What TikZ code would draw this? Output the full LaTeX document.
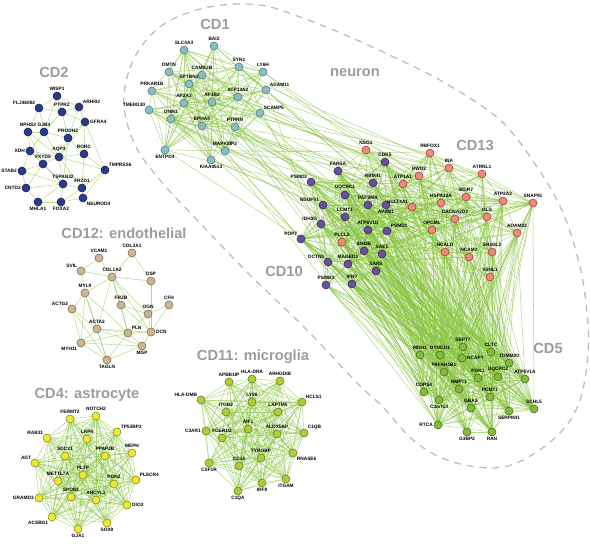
\documentclass[tikz,border=0pt]{standalone}
\usepackage{fontspec}
\setmainfont{Liberation Sans}
\usetikzlibrary{backgrounds}
\definecolor{CDone}{HTML}{8DBCC0}
\definecolor{CDoneLine}{HTML}{4E7C80}
\definecolor{CDtwo}{HTML}{2A3A8C}
\definecolor{CDtwoLine}{HTML}{1A2350}
\definecolor{CDtwelve}{HTML}{CDB590}
\definecolor{CDtwelveLine}{HTML}{7D6A50}
\definecolor{CDfour}{HTML}{EDE835}
\definecolor{CDfourLine}{HTML}{8C8A1A}
\definecolor{CDeleven}{HTML}{B0CC3A}
\definecolor{CDelevenLine}{HTML}{60801C}
\definecolor{CDten}{HTML}{6B4F9A}
\definecolor{CDtenLine}{HTML}{3A2A5E}
\definecolor{CDthirteen}{HTML}{EC8A78}
\definecolor{CDthirteenLine}{HTML}{9A4434}
\definecolor{CDfive}{HTML}{86BA3A}
\definecolor{CDfiveLine}{HTML}{43701A}
\definecolor{LinkGreen}{HTML}{84C23A}
\definecolor{TitleGray}{HTML}{9C9C9C}
\definecolor{OutlineGray}{HTML}{BDBDBD}
\tikzset{
 gene/.style={circle, inner sep=0pt, minimum size=2.4mm, line width=0.5pt},
 cdone/.style={gene, draw=CDoneLine, fill=CDone},
 cdtwo/.style={gene, draw=CDtwoLine, fill=CDtwo},
 cdtwelve/.style={gene, draw=CDtwelveLine, fill=CDtwelve},
 cdfour/.style={gene, draw=CDfourLine, fill=CDfour},
 cdeleven/.style={gene, draw=CDelevenLine, fill=CDeleven},
 cdten/.style={gene, draw=CDtenLine, fill=CDten},
 cdthirteen/.style={gene, draw=CDthirteenLine, fill=CDthirteen},
 cdfive/.style={gene, draw=CDfiveLine, fill=CDfive},
 every label/.style={font=\fontsize{4.1}{4.5}\selectfont\bfseries, inner sep=0.3pt, text=black},
 label distance=0.1mm,
 title/.style={font=\fontsize{12.5}{14}\selectfont\bfseries, text=TitleGray},
 netlink/.style={draw=LinkGreen, line width=0.45pt, opacity=0.6},
 outline/.style={draw=OutlineGray, line width=1.1pt, dash pattern=on 6pt off 5pt}
}
% random links inside one list / between two lists
\newcommand\linkwithin[2]{%
 \foreach \a [count=\i] in #1 {
  \foreach \b [count=\j] in #1 {
   \ifnum\j>\i
    \pgfmathtruncatemacro\keep{rnd<#2}
    \ifnum\keep=1 \draw[netlink] (\a) -- (\b);\fi
   \fi}}}
\newcommand\linkacross[3]{%
 \foreach \a in #1 {
  \foreach \b in #2 {
   \pgfmathtruncatemacro\keep{rnd<#3}
   \ifnum\keep=1 \draw[netlink] (\a) -- (\b);\fi}}}

\begin{document}
\begin{tikzpicture}[x=0.3mm, y=-0.3mm]
\useasboundingbox (0,0) rectangle (590,548);
\pgfmathsetseed{7}

% CD1
\foreach \nm/\x/\y/\lp/\txt in {bai2/214/46/above/BAI2, slc4a3/184/50/above/SLC4A3,
  syn1/239/67/above/SYN1, ly6h/263/72/above/LY6H, dmtn/169/72/above/DMTN,
  camk2b/202/75/above/CAMK2B, sptbn2/189/84/above/SPTBN2, prkar1b/152/91/above/PRKAR1B,
  adam11/266/90/above right/ADAM11, ap2a2/184/103/above/AP2A2, ap3b2/212/102/above/AP3B2,
  atp13a2/238/97/above/ATP13A2, tmem130/149/110/above left/TMEM130,
  scamp5/260/113/above right/SCAMP5, dnm1/171/119/above/DNM1, epha4/202/126/above/EPHA4,
  ptprn/235/127/above/PTPRN, entpd4/165/150/below/ENTPD4, mapk8ip2/225/151/above/MAPK8IP2,
  kiaa0513/211/160/below/KIAA0513}
  \node[cdone, label=\lp:\txt] (\nm) at (\x,\y) {};

% CD2
\foreach \nm/\x/\y/\lp/\txt in {wisp1/57/96/above/WISP1, flj46082/39/108/above left/FLJ46082,
  ptprz/62/112/above/PTPRZ, arhi02/79/107/above right/ARHI02, gfra4/85/122/right/GFRA4,
  nphs2/28/132/above/NPHS2, gjb4/44/132/above/GJB4, prodh2/68/138/above/PRODH2,
  xdh/30/151/left/XDH, aqp3/59/157/above/AQP3, fxyd5/43/164/above/FXYD5,
  rorc/84/154/above/RORC, tmprss6/105/170/above right/TMPRSS6, stab2/22/171/left/STAB2,
  tspan32/63/184/above/TSPAN32, frzd1/82/188/above/FRZD1, cntd2/26/188/left/CNTD2,
  neurod4/83/198/below right/NEUROD4, mhla1/38/202/below/MHLA1, foxa2/61/202/below/FOXA2}
  \node[cdtwo, label=\lp:\txt] (\nm) at (\x,\y) {};

% CD12
\foreach \nm/\x/\y/\lp/\txt in {col3a1/132/253/above/COL3A1, vcam1/99/258/above/VCAM1,
  svil/81/271/above left/SVIL, col1a2/112/277/above/COL1A2, dsp/151/281/above/DSP,
  myl9/85/293/above/MYL9, cfh/169/305/above/CFH, actg2/72/309/above left/ACTG2,
  frzb/121/305/above/FRZB, ogn/148/314/above/OGN, acta2/97/329/above/ACTA2,
  pln/128/333/above right/PLN, dcn/151/332/right/DCN, myh11/81/343/below left/MYH11,
  mgp/142/346/below/MGP, tagln/107/360/below/TAGLN}
  \node[cdtwelve, label=\lp:\txt] (\nm) at (\x,\y) {};

% CD4
\foreach \nm/\x/\y/\lp/\txt in {fermt2/70/419/above/FERMT2, notch2/96/416/above/NOTCH2,
  tp53bp2/117/432/above right/TP53BP2, rab31/47/438/above left/RAB31, lrp4/87/439/above/LRP4,
  sdc21/65/456/above/SDC21, ppap2b/105/456/above/PPAP2B, meph/132/453/above/MEPH,
  agt/35/463/above left/AGT, pltp/83/475/above/PLTP, mettl7a/58/481/above/METTL7A,
  pon2/114/484/above/PON2, plscr4/136/480/above right/PLSCR4, gramd3/39/498/left/GRAMD3,
  spon1/71/497/above/SPON1, ahcyl1/96/500/above/AHCYL1, dio2/127/505/right/DIO2,
  acsbg1/52/517/below left/ACSBG1, sox9/107/523/below/SOX9, gja1/78/529/below/GJA1}
  \node[cdfour, label=\lp:\txt] (\nm) at (\x,\y) {};

% CD11
\foreach \nm/\x/\y/\lp/\txt in {hladra/252/379/above/HLA-DRA, apbb1ip/229/382/above/APBB1IP,
  arhgdib/280/381/above/ARHGDIB, hladmb/201/400/above left/HLA-DMB, ly86/252/402/above/LY86,
  hcls1/302/402/above right/HCLS1, itgb2/226/412/above/ITGB2, laptm5/278/412/above/LAPTM5,
  aif1/248/429/above/AIF1, alox5ap/277/434/above/ALOX5AP, c3ar1/206/431/left/C3AR1,
  c1qb/304/433/above right/C1QB, fcer1g/222/438/above/FCER1G, tyrobp/261/458/above/TYROBP,
  rnase6/293/453/below right/RNASE6, cd14/239/466/above/CD14, csf1r/209/463/below/CSF1R,
  itgam/286/479/below/ITGAM, irf8/262/483/below/IRF8, c1qa/238/491/below/C1QA}
  \node[cdeleven, label=\lp:\txt] (\nm) at (\x,\y) {};

% CD10
\foreach \nm/\x/\y/\lp/\txt in {cdk5/385/162/above/CDK5, farsa/338/171/above/FARSA,
  psmd2/311/182/above left/PSMD2, rbm41/373/183/above/RBM41, uqcrc1/345/195/above/UQCRC1,
  ndufv1/323/205/above left/NDUFV1, pafsma/368/205/above/PAFSMA, ap2m1/386/205/below/AP2M1,
  lcmt1/345/217/above/LCMT1, idh3g/321/224/above left/IDH3G, atp6v1d/368/230/above/ATP6V1D,
  psmd1/387/231/above right/PSMD1, pop7/301/239/above left/POP7, idh3b/364/251/above/IDH3B,
  sae1/382/254/above/SAE1, dctn3/328/262/above left/DCTN3, maged1/348/264/above/MAGED1,
  sars/376/271/above/SARS, psmb3/326/285/above/PSMB3, ipnt/352/284/above/IPNT}
  \node[cdten, label=\lp:\txt] (\nm) at (\x,\y) {};

% CD13
\foreach \nm/\x/\y/\lp/\txt in {nsg1/366/150/above/NSG1, rbfox1/430/153/above/RBFOX1,
  ina/449/168/above/INA, rwd2/419/176/above/RWD2, atp1a1/403/184/above/ATP1A1,
  atrnl1/482/174/above/ATRNL1, wdr7/466/197/above/WDR7, hspa12a/441/203/above/HSPA12A,
  atp2a2/503/201/above/ATP2A2, snap91/533/203/above/SNAP91, sult4a1/412/207/above left/SULT4A1,
  cacna2d3/455/219/above/CACNA2D3, gls/487/217/above/GLS, opcml/432/230/above/OPCML,
  adam22/517/233/above/ADAM22, ncald/445/252/above/NCALD, ncam2/469/257/above/NCAM2,
  sh3gl2/492/252/above/SH3GL2, vsnl1/490/277/above/VSNL1, plcl2/342/242/above/PLCL2}
  \node[cdthirteen, label=\lp:\txt] (\nm) at (\x,\y) {};

% CD5
\foreach \nm/\x/\y/\lp/\txt in {sept7/463/347/above/SEPT7, mdh1/420/355/above/MDH1,
  dync1i1/440/355/above/DYNC1I1, cltc/491/352/above/CLTC, ncapt/462/358/right/NCAPT,
  tomm20/509/363/above/TOMM20, pafah1b1/444/372/above/PAFAH1B1, pgk1/478/378/above/PGK1,
  uqcrc2/498/377/above/UQCRC2, atp6v1a/525/379/above/ATP6V1A, cops4/424/392/above/COPS4,
  nmpt1/459/389/above/NMPT1, pcmt1/490/397/above/PCMT1, c3orf14/439/400/below/C3orf14,
  gbas/471/408/above/GBAS, schl5/534/409/above/SCHL5, serpini1/509/411/below/SERPINI1,
  rtca/438/425/left/RTCA, g3bp2/467/432/below/G3BP2, ran/492/432/below/RAN}
  \node[cdfive, label=\lp:\txt] (\nm) at (\x,\y) {};

% cluster titles
\node[title] (cdonetitle) at (215,24) {CD1};
\node[title] (cdtwotitle) at (54,72) {CD2};
\node[title] (neurontitle) at (355,73) {neuron};
\node[title] (cdthirteentitle) at (475,145) {CD13};
\node[title] (cdtentitle) at (284,271) {CD10};
\node[title] (cdfivetitle) at (548,348) {CD5};
\node[title] (cdtwelvetitle) at (124,233) {CD12: endothelial};
\node[title] (cdelevengtitle) at (253,357) {CD11: microglia};
\node[title] (cdfourtitle) at (87,395) {CD4: astrocyte};

\def\cdone{bai2,slc4a3,syn1,ly6h,dmtn,camk2b,sptbn2,prkar1b,adam11,ap2a2,ap3b2,atp13a2,tmem130,scamp5,dnm1,epha4,ptprn,entpd4,mapk8ip2,kiaa0513}
\def\cdfour{fermt2,notch2,tp53bp2,rab31,lrp4,sdc21,ppap2b,meph,agt,pltp,mettl7a,pon2,plscr4,gramd3,spon1,ahcyl1,dio2,acsbg1,sox9,gja1}
\def\cdeleven{hladra,apbb1ip,arhgdib,hladmb,ly86,hcls1,itgb2,laptm5,aif1,alox5ap,c3ar1,c1qb,fcer1g,tyrobp,rnase6,cd14,csf1r,itgam,irf8,c1qa}
\def\cdten{cdk5,farsa,psmd2,rbm41,uqcrc1,ndufv1,pafsma,ap2m1,lcmt1,idh3g,atp6v1d,psmd1,pop7,idh3b,sae1,dctn3,maged1,sars,psmb3,ipnt}
\def\cdthirteen{nsg1,rbfox1,ina,rwd2,atp1a1,atrnl1,wdr7,hspa12a,atp2a2,snap91,sult4a1,cacna2d3,gls,opcml,adam22,ncald,ncam2,sh3gl2,vsnl1,plcl2}
\def\cdfive{sept7,mdh1,dync1i1,cltc,ncapt,tomm20,pafah1b1,pgk1,uqcrc2,atp6v1a,cops4,nmpt1,pcmt1,c3orf14,gbas,schl5,serpini1,rtca,g3bp2,ran}

\begin{scope}[on background layer]
% neuron outline
\draw[outline] plot[smooth cycle, tension=0.6] coordinates {(124,105) (130,68) (148,38)
  (175,18) (215,6) (260,5) (300,17) (350,37) (400,60) (445,83) (500,120) (537,167)
  (563,213) (580,267) (587,313) (588,353) (580,400) (560,433) (523,460) (490,468)
  (447,460) (413,440) (383,407) (357,383) (307,330) (250,275) (197,220) (160,180) (135,145)};

% CD2 links
\foreach \a/\b in {wisp1/ptprz, wisp1/flj46082, wisp1/arhi02, flj46082/ptprz, flj46082/gjb4,
  flj46082/nphs2, ptprz/arhi02, ptprz/prodh2, ptprz/gjb4, ptprz/gfra4, arhi02/gfra4,
  arhi02/prodh2, gfra4/prodh2, gfra4/rorc, gfra4/tmprss6, nphs2/gjb4, nphs2/xdh, nphs2/fxyd5,
  gjb4/aqp3, gjb4/prodh2, gjb4/xdh, prodh2/aqp3, prodh2/rorc, xdh/fxyd5, xdh/stab2, xdh/aqp3,
  aqp3/fxyd5, aqp3/rorc, aqp3/tspan32, aqp3/frzd1, aqp3/tmprss6, rorc/tmprss6, rorc/frzd1,
  tmprss6/frzd1, tmprss6/neurod4, stab2/cntd2, stab2/tspan32, stab2/fxyd5, tspan32/frzd1,
  tspan32/foxa2, tspan32/mhla1, tspan32/cntd2, frzd1/neurod4, frzd1/foxa2, cntd2/mhla1,
  cntd2/fxyd5, mhla1/foxa2, foxa2/neurod4, fxyd5/tspan32, prodh2/tspan32, nphs2/aqp3,
  gfra4/aqp3, wisp1/gjb4, xdh/tspan32}
  \draw[netlink] (\a) -- (\b);

% CD12 links
\foreach \a/\b in {col3a1/col1a2, vcam1/col1a2, vcam1/svil, svil/col1a2, col1a2/dsp,
  col1a2/myl9, col1a2/frzb, col1a2/ogn, col1a2/dcn, col1a2/acta2, col1a2/pln, dsp/dcn,
  cfh/dcn, cfh/ogn, frzb/ogn, frzb/dcn, frzb/pln, ogn/dcn, ogn/pln, myl9/actg2, myl9/acta2,
  myl9/myh11, myl9/tagln, myl9/pln, actg2/acta2, actg2/myh11, actg2/tagln, acta2/pln,
  acta2/myh11, acta2/tagln, acta2/mgp, acta2/dcn, pln/dcn, pln/mgp, pln/myh11, pln/tagln,
  myh11/tagln, myh11/mgp, mgp/tagln, dcn/mgp, svil/myl9, col3a1/dsp}
  \draw[netlink] (\a) -- (\b);

% dense modules
\linkwithin{\cdfour}{0.95}
\linkwithin{\cdeleven}{0.95}
\linkwithin{\cdone}{0.5}
\linkwithin{\cdten}{0.55}
\linkwithin{\cdthirteen}{0.4}
\linkwithin{\cdfive}{0.7}
\linkacross{\cdten}{\cdthirteen}{0.22}
\linkacross{\cdten}{\cdfive}{0.45}
\linkacross{\cdthirteen}{\cdfive}{0.38}
\linkacross{\cdone}{\cdten}{0.06}
\linkacross{\cdone}{\cdthirteen}{0.05}
\foreach \a/\b in {mapk8ip2/c3orf14, ptprn/cops4, epha4/rtca}
  \draw[netlink] (\a) -- (\b);
\end{scope}
\end{tikzpicture}
\end{document}
